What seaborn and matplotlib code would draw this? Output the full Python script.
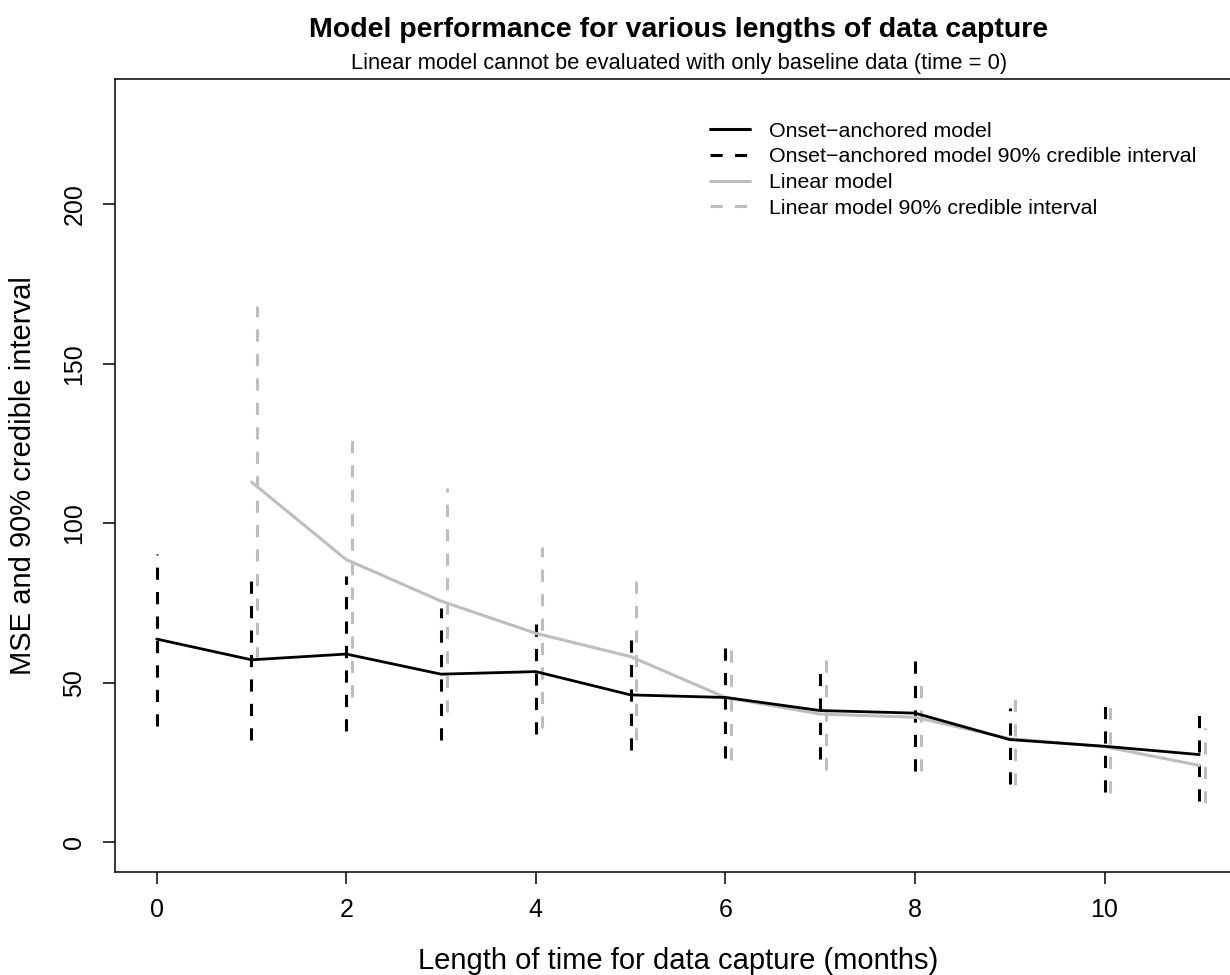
import numpy as np
import pandas as pd
import matplotlib
matplotlib.use("Agg")
import matplotlib.pyplot as plt
import seaborn as sns
from matplotlib.lines import Line2D

# ---- data ----
months = [0, 1, 2, 3, 4, 5, 6, 7, 8, 9, 10, 11]
onset_mse = [63.7, 57.2, 59.0, 52.7, 53.5, 46.2, 45.4, 41.3, 40.5, 32.2, 30.1, 27.5]
onset_lo = [36.5, 32.2, 34.8, 32.2, 34.1, 28.8, 26.4, 26.1, 22.3, 18.4, 15.7, 12.9]
onset_hi = [90.5, 82.2, 83.4, 73.3, 70.5, 63.6, 63.6, 56.1, 58.8, 42.0, 44.7, 41.6]

linear_months = [1, 2, 3, 4, 5, 6, 7, 8, 9, 10, 11]
linear_mse = [112.9, 88.6, 75.6, 65.5, 58.2, 45.4, 40.2, 39.2, 32.5, 30.0, 24.1]
linear_lo = [57.6, 45.7, 41.0, 35.8, 32.2, 25.9, 22.6, 22.3, 18.1, 15.5, 12.3]
linear_hi = [168.1, 129.6, 111.1, 92.6, 82.5, 62.6, 58.0, 52.5, 47.0, 44.7, 35.8]

x_ticks = [0, 2, 4, 6, 8, 10]
y_ticks = [0, 50, 100, 150, 200]

title = "Model performance for various lengths of data capture"
subtitle = "Linear model cannot be evaluated with only baseline data (time = 0)"
xlabel = "Length of time for data capture (months)"
ylabel = "MSE and 90% credible interval"
legend_labels = ["Onset\u2212anchored model",
                 "Onset\u2212anchored model 90% credible interval",
                 "Linear model",
                 "Linear model 90% credible interval"]

GREY = "#BEBEBE"
offset = 0.06

sns.set_style("ticks")
plt.rcParams['font.family'] = ['Liberation Sans', 'DejaVu Sans']
plt.rcParams['text.color'] = 'black'
plt.rcParams['axes.labelcolor'] = 'black'
plt.rcParams['xtick.color'] = 'black'
plt.rcParams['ytick.color'] = 'black'

onset_df = pd.DataFrame({"month": months, "mse": onset_mse})
linear_df = pd.DataFrame({"month": linear_months, "mse": linear_mse})

fig = plt.figure(figsize=(12.3, 9.75), dpi=100)
ax = fig.add_axes([115/1230, 1-871.7/975, 1126/1230, (871.7-79)/975])

dash = (4, 4)
ax.vlines(months, onset_lo, onset_hi, colors="black", linewidth=2.2,
          linestyles=[(0, dash)], zorder=2)
ax.vlines(np.array(linear_months) + offset, linear_lo, linear_hi, colors=GREY,
          linewidth=2.2, linestyles=[(0, dash)], zorder=2)
sns.lineplot(data=linear_df, x="month", y="mse", color=GREY, linewidth=2.2,
             ax=ax, zorder=3)
sns.lineplot(data=onset_df, x="month", y="mse", color="black", linewidth=2.0,
             ax=ax, zorder=4)

ax.set_xlim(-0.44, 11.44)
ax.set_ylim(-9.2, 239.2)
ax.set_xticks(x_ticks)
ax.set_yticks(y_ticks)
ax.set_xticklabels([str(t) for t in x_ticks], fontsize=18)
ax.set_yticklabels([str(t) for t in y_ticks], fontsize=18, rotation=90, va="center")
ax.tick_params(direction="out", length=8.6, width=1.1, colors="black")
ax.tick_params(axis="x", pad=10)
ax.tick_params(axis="y", pad=12)
for s in ax.spines.values():
    s.set_visible(True)
    s.set_linewidth(1.1)
    s.set_color("black")
ax.set_xlabel(xlabel, fontsize=21, labelpad=18)
ax.set_ylabel(ylabel, fontsize=21, labelpad=18)

handles = [Line2D([], [], color="black", lw=2.2),
           Line2D([], [], color="black", lw=2.2, ls=(0, (4, 4))),
           Line2D([], [], color=GREY, lw=2.2),
           Line2D([], [], color=GREY, lw=2.2, ls=(0, (4, 4)))]
ax.legend(handles, legend_labels, loc="upper left", bbox_to_anchor=(0.528, 0.946),
          frameon=False, fontsize=15.4, handlelength=1.87, handletextpad=0.93,
          labelspacing=0.31, borderpad=0, borderaxespad=0)

fig.text(679/1230, 1-30/975, title, ha="center", va="center", fontsize=20.5, fontweight="bold")
fig.text(679/1230, 1-64/975, subtitle, ha="center", va="center", fontsize=15.75)

fig.savefig("out.png", dpi=100)
